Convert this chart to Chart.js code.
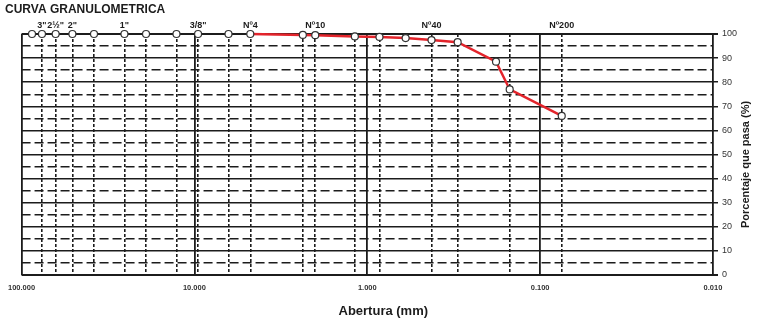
<!DOCTYPE html>
<html>
<head>
<meta charset="utf-8">
<script src="https://cdn.jsdelivr.net/npm/chart.js@4"></script>
<style>
  html, body { margin: 0; padding: 0; background: #fff; }
  #wrap { width: 784px; height: 320px; }
</style>
</head>
<body>
<div id="wrap"><canvas id="gradChart"></canvas></div>
<script>
// Tamices de grava (pasa 100%)
const gravelSizes = [87, 76.2, 63.5, 50.8, 38.1, 25.4, 19.05, 12.7, 9.525, 6.35];
const gravelPass = [100, 100, 100, 100, 100, 100, 100, 100, 100, 100];

// Curva desde Nº4 hasta Nº200
const curveSizes = [4.75, 2.36, 2.0, 1.18, 0.85, 0.6, 0.425, 0.3, 0.18, 0.15, 0.075];
const curvePass = [100, 99.6, 99.5, 99.0, 98.8, 98.3, 97.5, 96.6, 88.5, 77.0, 66.0];

// Lineas verticales (tamices) y decadas
const sieveLines = [76.2, 63.5, 50.8, 38.1, 25.4, 19.05, 12.7, 9.525, 6.35, 4.75, 2.36, 2.0, 1.18, 0.85, 0.425, 0.3, 0.15, 0.075];
const decades = [100, 10, 1, 0.1, 0.01];
const decadeLabels = ['100.000', '10.000', '1.000', '0.100', '0.010'];

// Etiquetas superiores
const topSizes = [76.2, 63.5, 50.8, 25.4, 9.525, 4.75, 2.0, 0.425, 0.075];
const topLabels = ['3"', '2½"', '2"', '1"', '3/8"', 'Nº4', 'Nº10', 'Nº40', 'Nº200'];

const FONT = '"Liberation Sans", Arial, sans-serif';
const INK = '#1c1c1c';

const toPoints = (xs, ys) => xs.map((x, i) => ({ x: x, y: ys[i] }));

// textos fuera de los ejes
const extraText = {
    id: 'extraText',
    afterDraw(chart) {
        const ctx = chart.ctx;
        const a = chart.chartArea;
        ctx.save();
        ctx.fillStyle = INK;
        ctx.textBaseline = 'middle';
        ctx.font = 'bold 12px ' + FONT;
        ctx.fillText('CURVA GRANULOMETRICA', 5, 10);

        ctx.textAlign = 'center';
        ctx.font = 'bold 13px ' + FONT;
        ctx.fillText('Abertura (mm)', (a.left + a.right) / 2 + 16, 311);

        ctx.translate(746, (a.top + a.bottom) / 2 + 10);
        ctx.rotate(-Math.PI / 2);
        ctx.font = 'bold 11px ' + FONT;
        ctx.fillText('Porcentaje que pasa (%)', 0, 0);
        ctx.restore();
    }
};

const ctx = document.getElementById('gradChart').getContext('2d');

new Chart(ctx, {
    type: 'line',
    data: {
        datasets: [
            {
                label: 'Curva',
                data: toPoints(curveSizes, curvePass),
                borderColor: '#e3242b',
                borderWidth: 2.5,
                pointRadius: 3.5,
                pointBackgroundColor: '#ffffff',
                pointBorderColor: '#333333',
                pointBorderWidth: 1.2,
                tension: 0,
                clip: false
            },
            {
                label: 'Grava',
                data: toPoints(gravelSizes, gravelPass),
                showLine: false,
                pointRadius: 3.5,
                pointBackgroundColor: '#ffffff',
                pointBorderColor: '#333333',
                pointBorderWidth: 1.2,
                clip: false
            }
        ]
    },
    options: {
        responsive: true,
        maintainAspectRatio: false,
        animation: false,
        layout: { padding: { left: 20, right: 0, top: 0, bottom: 0 } },
        plugins: {
            legend: { display: false },
            tooltip: { enabled: false },
            title: { display: false }
        },
        scales: {
            x: {
                type: 'logarithmic',
                position: 'bottom',
                min: 0.01,
                max: 100,
                reverse: true,
                afterBuildTicks: s => { s.ticks = decades.concat(sieveLines).map(v => ({ value: v })); },
                afterFit: s => { s.height = 45; },
                grid: {
                    drawTicks: false,
                    color: INK,
                    lineWidth: c => decades.includes(c.tick.value) ? 1.8 : 1.6
                },
                border: {
                    display: false,
                    dash: c => (c.tick && !decades.includes(c.tick.value)) ? [3, 2] : []
                },
                ticks: {
                    autoSkip: false,
                    maxRotation: 0,
                    padding: 8,
                    color: '#333',
                    font: { family: FONT, size: 7.5, weight: 'bold' },
                    callback: v => {
                        const k = decades.indexOf(v);
                        return k >= 0 ? decadeLabels[k] : '';
                    }
                }
            },
            x2: {
                type: 'logarithmic',
                position: 'top',
                min: 0.01,
                max: 100,
                reverse: true,
                afterBuildTicks: s => { s.ticks = topSizes.map(v => ({ value: v })); },
                afterFit: s => { s.height = 34; },
                grid: { display: false, drawTicks: false },
                border: { display: false },
                ticks: {
                    autoSkip: false,
                    maxRotation: 0,
                    padding: 3,
                    color: INK,
                    font: { family: FONT, size: 9, weight: 'bold' },
                    callback: (v, i) => topLabels[i]
                }
            },
            y: {
                position: 'right',
                min: 0,
                max: 100,
                afterFit: s => { s.width = 71; },
                grid: {
                    color: INK,
                    lineWidth: c => (c.tick.value === 0 || c.tick.value === 100) ? 2 : 1.5,
                    tickLength: 5,
                    tickColor: c => c.tick.value % 10 === 0 ? INK : 'rgba(0,0,0,0)'
                },
                border: {
                    display: false,
                    dash: c => (c.tick && c.tick.value % 10 !== 0) ? [9, 4] : []
                },
                ticks: {
                    stepSize: 5,
                    autoSkip: false,
                    padding: 4,
                    color: '#333',
                    font: { family: FONT, size: 9 },
                    callback: v => v % 10 === 0 ? String(v) : ''
                }
            }
        }
    },
    plugins: [extraText]
});
</script>
</body>
</html>
